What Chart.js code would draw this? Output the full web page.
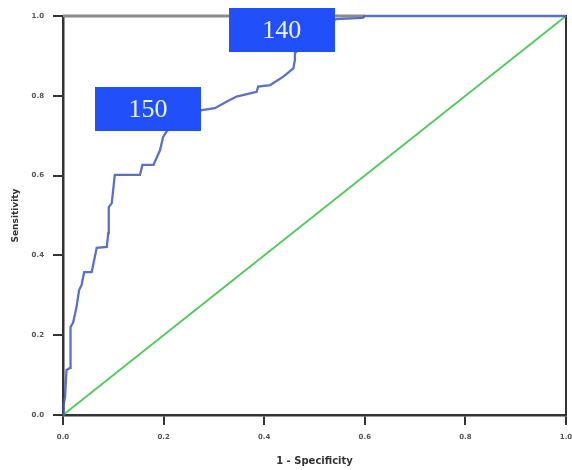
<!DOCTYPE html>
<html>
<head>
<meta charset="utf-8">
<script src="https://cdn.jsdelivr.net/npm/chart.js@4/dist/chart.umd.min.js"></script>
<style>
  html,body{margin:0;padding:0;background:#fff;}
  #wrap{width:572px;height:470px;}
</style>
</head>
<body>
<div id="wrap"><canvas id="c" width="572" height="470"></canvas></div>
<script>
// ROC curve (1 - specificity, sensitivity)
const fprValues = [0.000, 0.001, 0.004, 0.007, 0.014, 0.015, 0.020, 0.027, 0.032, 0.037, 0.042, 0.057, 0.067, 0.087, 0.090, 0.091, 0.097, 0.103, 0.153, 0.158, 0.180, 0.193, 0.199, 0.207, 0.240, 0.276, 0.302, 0.325, 0.345, 0.372, 0.385, 0.388, 0.412, 0.438, 0.458, 0.461, 0.461, 0.500, 0.543, 0.596, 0.600, 1.000];
const tprValues = [0.000, 0.025, 0.045, 0.113, 0.118, 0.221, 0.231, 0.271, 0.313, 0.326, 0.358, 0.358, 0.419, 0.421, 0.456, 0.521, 0.531, 0.602, 0.602, 0.627, 0.627, 0.664, 0.697, 0.712, 0.745, 0.764, 0.769, 0.785, 0.798, 0.806, 0.810, 0.823, 0.827, 0.848, 0.869, 0.890, 0.907, 0.950, 0.992, 0.995, 1.000, 1.000];
// reference (chance) line
const refX = [0, 1];
const refY = [0, 1];
// tick values
const tickValues = [0, 0.2, 0.4, 0.6, 0.8, 1.0];
// callout labels
const calloutTexts = ['150', '140'];
</script>
<script>
const calloutAnchors = [{x: 0.169, y: 0.767}, {x: 0.435, y: 0.965}];
const calloutSize = {w: 106, h: 44};

const rocData = fprValues.map((v, i) => ({x: v, y: tprValues[i]}));
const refData = refX.map((v, i) => ({x: v, y: refY[i]}));

const framePlugin = {
  id: 'frame',
  beforeDatasetsDraw(chart) {
    const {ctx, chartArea: a} = chart;
    const xs = chart.scales.x;
    ctx.save();
    ctx.strokeStyle = '#8c8c8c';
    ctx.lineWidth = 3;
    ctx.beginPath();
    ctx.moveTo(a.left, a.top);
    ctx.lineTo(xs.getPixelForValue(0.6), a.top);
    ctx.stroke();
    ctx.strokeStyle = '#333';
    ctx.lineWidth = 2;
    ctx.beginPath();
    ctx.moveTo(a.right, a.top - 1);
    ctx.lineTo(a.right, a.bottom);
    ctx.stroke();
    ctx.restore();
  },
  afterDatasetsDraw(chart) {
    const {ctx} = chart;
    const xs = chart.scales.x, ys = chart.scales.y;
    ctx.save();
    calloutTexts.forEach((t, i) => {
      const cx = xs.getPixelForValue(calloutAnchors[i].x);
      const cy = ys.getPixelForValue(calloutAnchors[i].y);
      ctx.fillStyle = '#2150fb';
      ctx.fillRect(Math.round(cx - calloutSize.w / 2), Math.round(cy - calloutSize.h / 2), calloutSize.w, calloutSize.h);
      ctx.fillStyle = 'rgba(255,255,255,0.92)';
      ctx.font = '26px "Liberation Serif", "DejaVu Serif", serif';
      ctx.textAlign = 'center';
      ctx.textBaseline = 'middle';
      ctx.fillText(t, cx, cy + 1);
    });
    ctx.restore();
  }
};

new Chart(document.getElementById('c'), {
  type: 'scatter',
  data: {
    datasets: [
      {
        label: 'ROC',
        data: rocData,
        showLine: true,
        borderColor: 'rgba(62,88,190,0.85)',
        borderWidth: 2.3,
        pointRadius: 0,
        tension: 0,
        clip: 4
      },
      {
        label: 'Reference',
        data: refData,
        showLine: true,
        borderColor: '#4fc95a',
        borderWidth: 1.8,
        pointRadius: 0,
        clip: 4
      }
    ]
  },
  options: {
    responsive: false,
    animation: false,
    devicePixelRatio: 1,
    layout: {padding: {top: 16, right: 6, left: 0, bottom: 0}},
    plugins: {legend: {display: false}, tooltip: {enabled: false}},
    scales: {
      x: {
        type: 'linear',
        min: 0, max: 1,
        afterBuildTicks: (s) => { s.ticks = tickValues.map(v => ({value: v})); },
        afterFit: (s) => { s.height = 55; s.paddingLeft = 0; s.paddingRight = 0; },
        border: {display: true, color: '#333', width: 2.5},
        grid: {drawOnChartArea: false, color: '#333', lineWidth: 2, tickLength: 10},
        ticks: {
          padding: 8,
          color: '#555',
          font: {family: 'DejaVu Sans', size: 7, weight: 'bold'},
          callback: (v) => Number(v).toFixed(1),
          maxRotation: 0
        },
        title: {
          display: true,
          text: '1 - Specificity',
          color: '#333',
          font: {family: 'DejaVu Sans', size: 10, weight: 'bold'},
          padding: {top: 0, bottom: 3}
        }
      },
      y: {
        type: 'linear',
        min: 0, max: 1,
        afterBuildTicks: (s) => { s.ticks = tickValues.map(v => ({value: v})); },
        afterFit: (s) => { s.width = 63; s.paddingTop = 0; s.paddingBottom = 0; },
        border: {display: true, color: '#333', width: 2.5},
        grid: {drawOnChartArea: false, color: '#333', lineWidth: 2, tickLength: 10},
        ticks: {
          padding: 9,
          color: '#555',
          font: {family: 'DejaVu Sans', size: 7, weight: 'bold'},
          callback: (v) => Number(v).toFixed(1)
        },
        title: {
          display: true,
          text: 'Sensitivity',
          color: '#333',
          font: {family: 'DejaVu Sans', size: 9, weight: 'bold'},
          padding: {top: 10, bottom: 0}
        }
      }
    }
  },
  plugins: [framePlugin]
});
</script>
</body>
</html>
